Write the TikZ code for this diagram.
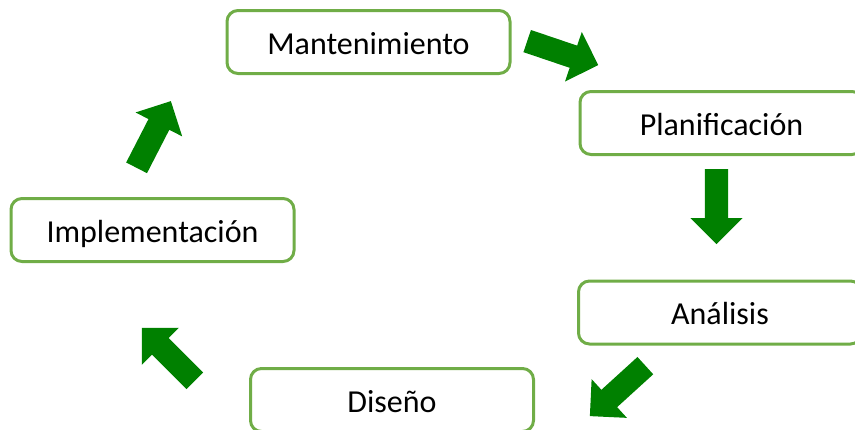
\documentclass[tikz,border=0pt]{standalone}
\usepackage{fontspec}
\setmainfont{Carlito}
\usetikzlibrary{shapes.arrows}
\definecolor{boxline}{RGB}{112,173,71}
\definecolor{arrowgreen}{RGB}{0,128,0}
\tikzset{
  stagebox/.style={draw=boxline, line width=3pt, rounded corners=11pt, fill=white,
    minimum width=283pt, minimum height=63pt, inner sep=0pt,
    text height=24pt, text depth=0pt, font=\fontsize{32}{37}\selectfont},
  blockarrow/.style={single arrow, fill=arrowgreen, draw=none, inner xsep=0pt,
    inner ysep=11.5pt, minimum height=75pt, single arrow head extend=14.5pt,
    anchor=tail}
}
\begin{document}
\begin{tikzpicture}[x=1pt,y=-1pt]
\useasboundingbox (0,0) rectangle (855,429);
\clip (0,0) rectangle (855,429);
\node[stagebox] (mant) at (368.5,42) {Mantenimiento};
\node[stagebox] (plan) at (721.5,123) {Planificación};
\node[stagebox] (anal) at (720,312.5) {Análisis};
\node[stagebox] (dis) at (392,400) {Diseño};
\node[stagebox] (impl) at (152.5,230) {Implementación};
\node[blockarrow, rotate=-18.7] (a1) at (527,41) {};
\node[blockarrow, rotate=-90] (a2) at (716.5,169) {};
\node[blockarrow, rotate=222.3] (a3) at (645.5,365.5) {};
\node[blockarrow, rotate=135] (a4) at (195,381) {};
\node[blockarrow, rotate=62.8] (a5) at (136.5,168) {};
\end{tikzpicture}
\end{document}
